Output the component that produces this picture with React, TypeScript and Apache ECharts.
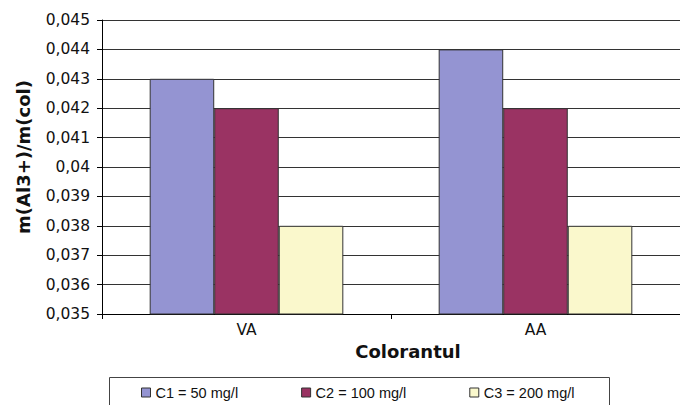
import React, { useEffect, useRef } from "react";
import * as echarts from "echarts";

// Colorant categories and Al3+ ratio per concentration
const categories = ["VA", "AA"];
const seriesNames = ["C1 = 50 mg/l", "C2 = 100 mg/l", "C3 = 200 mg/l"];
const c1Values = [0.043, 0.044];
const c2Values = [0.042, 0.042];
const c3Values = [0.038, 0.038];
const seriesColors = ["#9494d2", "#9a3363", "#faf8cc"];

const yMin = 0.035;
const yMax = 0.045;
const yStep = 0.001;

const tickFont = "DejaVu Sans";
const boldFont = "DejaVu Sans";

// Excel-style number: trailing zeros dropped, decimal comma
const formatTick = (v: number) => String(parseFloat(v.toFixed(3))).replace(".", ",");

export default function App() {
  const ref = useRef<HTMLDivElement>(null);

  useEffect(() => {
    if (!ref.current) return;
    const chart = echarts.init(ref.current, undefined, { renderer: "svg" });
    const values = [c1Values, c2Values, c3Values];

    chart.setOption({
      animation: false,
      backgroundColor: "#ffffff",
      grid: { left: 102, right: 0, top: 20, bottom: 91, containLabel: false },
      xAxis: {
        type: "category",
        data: categories,
        boundaryGap: true,
        axisLine: { show: true, lineStyle: { color: "#000", width: 1 } },
        axisTick: { show: true, alignWithLabel: false, length: 5, lineStyle: { color: "#000" } },
        axisLabel: { color: "#111", fontFamily: tickFont, fontSize: 15.5, margin: 8 },
        splitLine: { show: false },
      },
      yAxis: {
        type: "value",
        min: yMin,
        max: yMax,
        interval: yStep,
        axisLine: { show: true, lineStyle: { color: "#000", width: 1 } },
        axisTick: { show: true, inside: false, length: 5, lineStyle: { color: "#000" } },
        axisLabel: {
          color: "#111",
          fontFamily: tickFont,
          fontSize: 15.5,
          margin: 12,
          formatter: formatTick,
        },
        splitLine: { show: true, lineStyle: { color: "#333", width: 1, type: "solid" } },
      },
      legend: {
        data: seriesNames,
        left: 141,
        top: 385,
        itemWidth: 9,
        itemHeight: 9,
        itemGap: 63,
        icon: "rect",
        padding: 0,
        itemStyle: { borderColor: "#333", borderWidth: 1 },
        textStyle: { color: "#111", fontFamily: "Liberation Sans", fontSize: 14.5 },
      },
      series: seriesNames.map((name, i) => ({
        name,
        type: "bar",
        data: values[i],
        barGap: "0%",
        barCategoryGap: "33%",
        itemStyle: { color: seriesColors[i], borderColor: "#333", borderWidth: 1 },
      })),
      graphic: [
        {
          type: "rect",
          shape: { x: 109.5, y: 377.5, width: 500, height: 40 },
          style: { fill: "none", stroke: "#444", lineWidth: 1 },
          silent: true,
        },
        {
          type: "text",
          x: 408,
          y: 351,
          style: {
            text: "Colorantul",
            fontFamily: boldFont,
            fontWeight: "bold",
            fontSize: 18,
            fill: "#111",
            textAlign: "center",
            textVerticalAlign: "middle",
          },
        },
        {
          type: "text",
          x: 23,
          y: 157,
          rotation: Math.PI / 2,
          style: {
            text: "m(Al3+)/m(col)",
            fontFamily: boldFont,
            fontWeight: "bold",
            fontSize: 18,
            fill: "#111",
            textAlign: "center",
            textVerticalAlign: "middle",
          },
        },
      ],
    });

    return () => chart.dispose();
  }, []);

  return (
    <div
      ref={ref}
      style={{ position: "fixed", left: 0, top: 0, width: 680, height: 405 }}
    />
  );
}
